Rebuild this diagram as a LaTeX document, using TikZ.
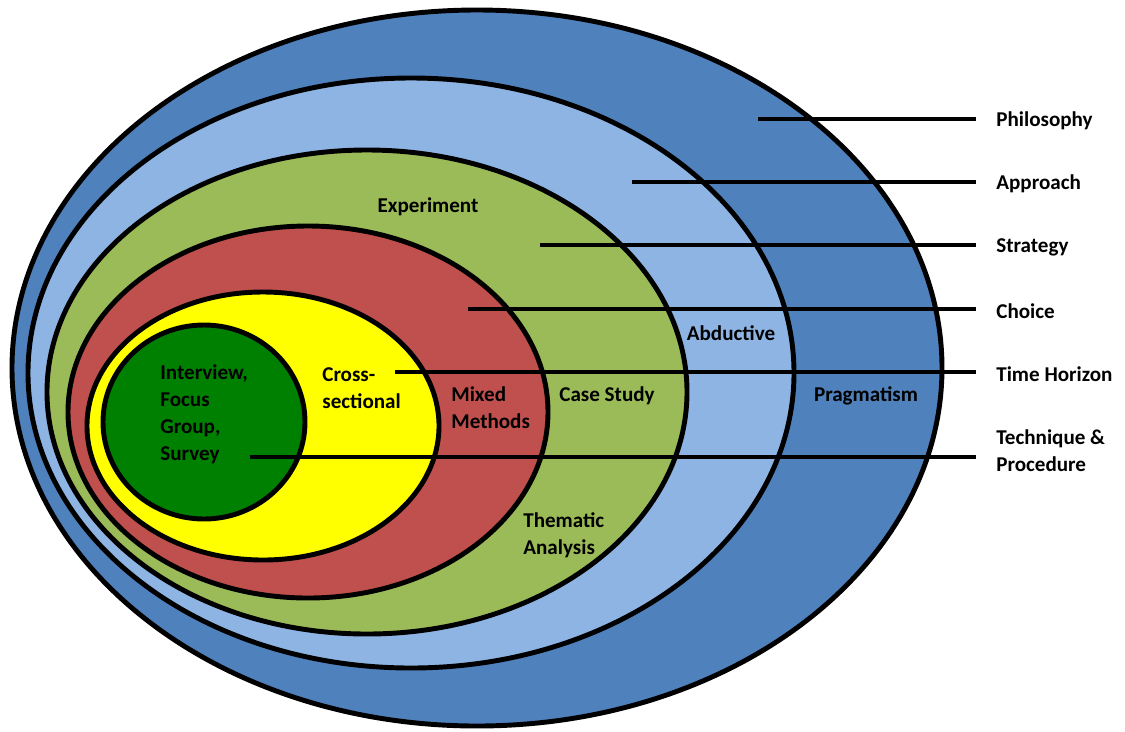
\documentclass[tikz,border=0pt]{standalone}
\usepackage{fontspec}
\setmainfont{Carlito}
\usepackage{xcolor}
\usetikzlibrary{positioning}
\definecolor{philblue}{HTML}{4F81BD}
\definecolor{apprblue}{HTML}{8EB4E3}
\definecolor{stratgreen}{HTML}{9BBB59}
\definecolor{choicered}{HTML}{C0504D}
\definecolor{timeyellow}{HTML}{FFFF00}
\definecolor{techgreen}{HTML}{008000}

\begin{document}
\begin{tikzpicture}[x=0.02cm,y=-0.02cm,
	layer/.style={draw=black, line width=2.8pt},
	pointer/.style={draw=black, line width=2.3pt},
	name node/.style={font=\bfseries\fontsize{12}{15.3}\selectfont, align=left, inner sep=0pt},
	side node/.style={name node, anchor=west}]
	\useasboundingbox (0,0) rectangle (1125,731);
	
	% Layers
	\draw[layer, fill=philblue] (477,368) ellipse [x radius=465, y radius=358];
	\draw[layer, fill=apprblue] (411,373) ellipse [x radius=383, y radius=295];
	\draw[layer, fill=stratgreen] (367,392) ellipse [x radius=320, y radius=242];
	\draw[layer, fill=choicered] (308,412) ellipse [x radius=240, y radius=186];
	\draw[layer, fill=timeyellow] (263,426) ellipse [x radius=176, y radius=134];
	\draw[layer, fill=techgreen] (204,422) ellipse [x radius=101, y radius=97];
	
	% Nodes
	\node[side node] (phil) at (996,121) {Philosophy};
	\node[side node] (appr) at (996,184) {Approach};
	\node[side node] (strat) at (996,247) {Strategy};
	\node[side node] (choice) at (996,311) {Choice};
	\node[side node] (time) at (996,374) {Time Horizon};
	\node[side node] (tech) at (996,451) {Technique \&\\Procedure};
	
	\node[name node] (exp) at (428,207) {Experiment};
	\node[name node] (abd) at (731,333) {Abductive};
	\node[name node] (prag) at (866,396) {Pragmatism};
	\node[name node] (case) at (607,396) {Case Study};
	\node[name node, anchor=west] (mixed) at (451,408) {Mixed\\Methods};
	\node[name node, anchor=west] (them) at (523,535) {Thematic\\Analysis};
	\node[name node, anchor=west] (cross) at (322,388) {Cross-\\sectional};
	\node[name node, anchor=west] (inter) at (160,414) {Interview,\\Focus\\Group,\\Survey};
	
	\coordinate (phil-in) at (758,119);
	\coordinate (appr-in) at (632,182);
	\coordinate (strat-in) at (540,245);
	\coordinate (choice-in) at (468,309);
	\coordinate (time-in) at (395,372);
	\coordinate (tech-in) at (250,457);
	
	\path[pointer]
	(phil-in) edge ([xshift=-20*0.02cm]phil-in -| phil.west)
	(appr-in) edge ([xshift=-20*0.02cm]appr-in -| appr.west)
	(strat-in) edge ([xshift=-20*0.02cm]strat-in -| strat.west)
	(choice-in) edge ([xshift=-20*0.02cm]choice-in -| choice.west)
	(time-in) edge ([xshift=-20*0.02cm]time-in -| time.west)
	(tech-in) edge ([xshift=-20*0.02cm]tech-in -| tech.west);
	
\end{tikzpicture}
\end{document}
